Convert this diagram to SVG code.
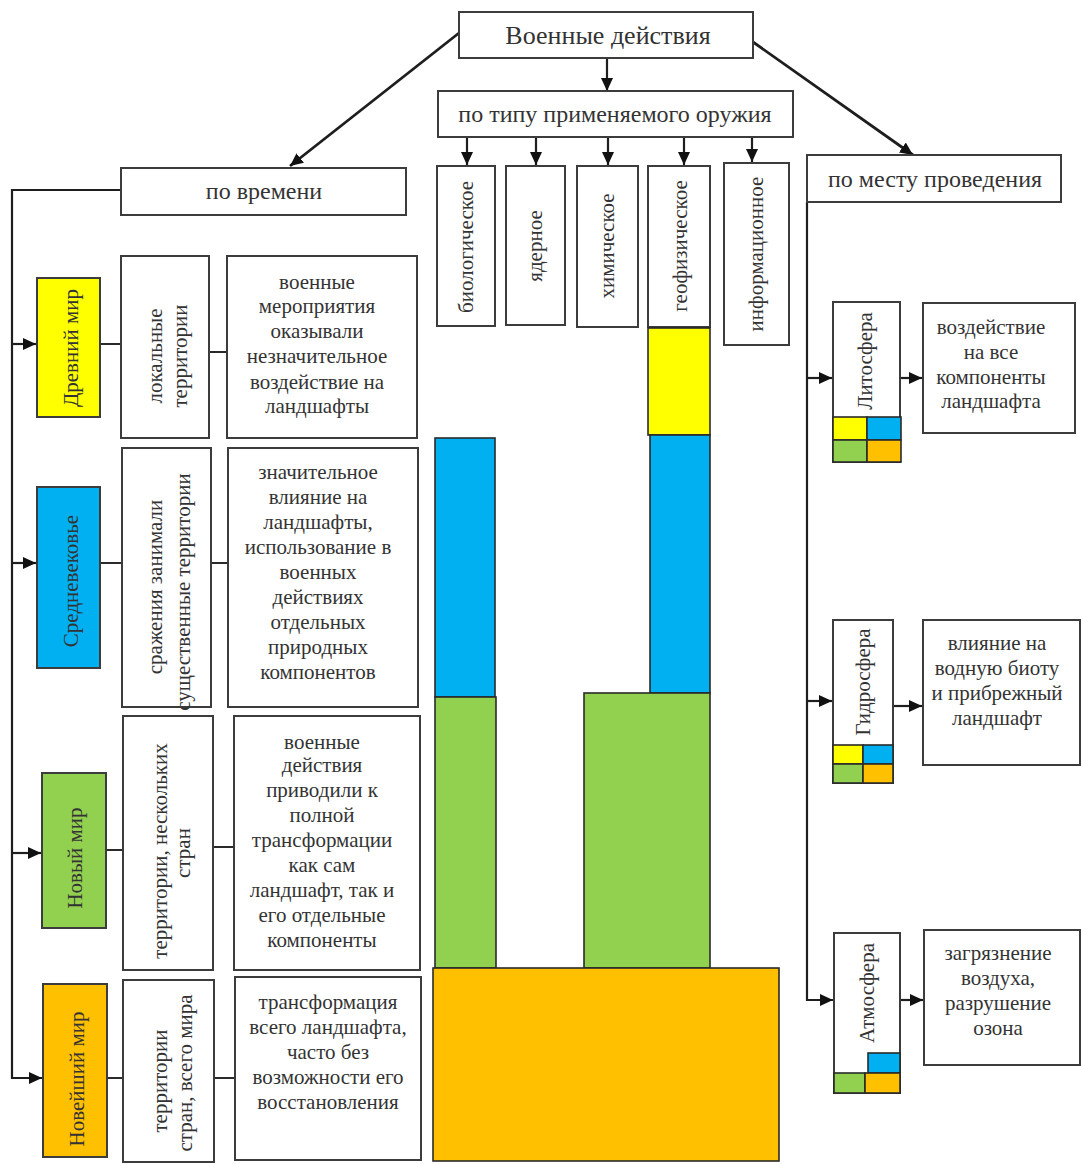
<svg xmlns="http://www.w3.org/2000/svg" width="1081" height="1164" viewBox="0 0 1081 1164">
<defs>
<marker id="ah" markerUnits="userSpaceOnUse" markerWidth="14" markerHeight="14" refX="13" refY="7" orient="auto">
<path d="M0,1 L13,7 L0,13 z" fill="#111"/>
</marker>
<style>
.box{fill:#fff;stroke:#3c3c3c;stroke-width:2}
.bar{stroke:#2a2a2a;stroke-width:1.6}
.ln{fill:none;stroke:#2a2a2a;stroke-width:2}
.ar{fill:none;stroke:#1e1e1e;stroke-width:2.2;marker-end:url(#ah)}
.ard{fill:none;stroke:#1e1e1e;stroke-width:2.8;marker-end:url(#ah)}
text{font-family:"Liberation Serif","Times New Roman",serif;fill:#333;text-anchor:middle}
.t1{font-size:26px}
.t2{font-size:24px}
.t3{font-size:21px}
.y{fill:#ffff00}.b{fill:#00b0f0}.g{fill:#92d050}.o{fill:#ffc000}
</style>
</defs>
<rect width="1081" height="1164" fill="#fff"/>

<g id="connectors">
<line class="ard" x1="459" y1="33" x2="290" y2="166"/>
<line class="ar" x1="607" y1="58" x2="607" y2="91"/>
<line class="ard" x1="753" y1="42" x2="913" y2="155"/>
<line class="ar" x1="467" y1="137" x2="467" y2="165"/>
<line class="ar" x1="536" y1="137" x2="536" y2="165"/>
<line class="ar" x1="608" y1="137" x2="608" y2="165"/>
<line class="ar" x1="684" y1="137" x2="684" y2="165"/>
<line class="ar" x1="752" y1="137" x2="752" y2="162"/>
<path class="ar" d="M121,190 H12 V1078 H42"/>
<line class="ar" x1="12" y1="344" x2="36" y2="344"/>
<line class="ar" x1="12" y1="563" x2="36" y2="563"/>
<line class="ar" x1="12" y1="853" x2="41" y2="853"/>
<line class="ln" x1="100" y1="344" x2="121" y2="344"/>
<line class="ln" x1="100" y1="563" x2="122" y2="563"/>
<line class="ln" x1="105" y1="850" x2="123" y2="850"/>
<line class="ln" x1="107" y1="1078" x2="123" y2="1078"/>
<line class="ln" x1="209" y1="352" x2="227" y2="352"/>
<line class="ln" x1="211" y1="563" x2="228" y2="563"/>
<line class="ln" x1="213" y1="847" x2="234" y2="847"/>
<line class="ln" x1="214" y1="1078" x2="235" y2="1078"/>
<path class="ar" d="M807,202 V1000 H833"/>
<line class="ar" x1="807" y1="378" x2="832" y2="378"/>
<line class="ar" x1="807" y1="701" x2="832" y2="701"/>
<line class="ar" x1="900" y1="378" x2="922" y2="378"/>
<line class="ar" x1="893" y1="706" x2="922" y2="706"/>
<line class="ar" x1="900" y1="1000" x2="923" y2="1000"/>
</g>

<g id="n-root"><rect class="box" x="459" y="12" width="294" height="46"/><text class="t1" x="608" y="44">Военные действия</text></g>
<g id="n-type"><rect class="box" x="438" y="91" width="355" height="46"/><text class="t2" x="615" y="122">по типу применяемого оружия</text></g>
<g id="n-time"><rect class="box" x="121" y="168" width="285" height="47"/><text class="t2" x="264" y="199">по времени</text></g>
<g id="n-place"><rect class="box" x="807" y="155" width="254" height="47"/><text class="t2" x="935" y="187">по месту проведения</text></g>

<g id="n-bio"><rect class="box" x="437" y="166" width="58" height="160"/><text class="t3" transform="translate(473,247) rotate(-90)">биологическое</text></g>
<g id="n-nuc"><rect class="box" x="506" y="166" width="59" height="159"/><text class="t3" transform="translate(542,246) rotate(-90)">ядерное</text></g>
<g id="n-chem"><rect class="box" x="577" y="166" width="61" height="161"/><text class="t3" transform="translate(614,246) rotate(-90)">химическое</text></g>
<g id="n-geo"><rect class="box" x="648" y="166" width="62" height="161"/><text class="t3" transform="translate(687,246) rotate(-90)">геофизическое</text></g>
<g id="n-info"><rect class="box" x="724" y="163" width="65" height="182"/><text class="t3" transform="translate(763,254) rotate(-90)">информационное</text></g>

<g id="bars">
<rect class="bar b" x="435" y="438" width="60" height="259"/>
<rect class="bar g" x="435" y="697" width="61" height="271"/>
<rect class="bar y" x="648" y="328" width="62" height="107"/>
<rect class="bar b" x="650" y="435" width="60" height="258"/>
<rect class="bar g" x="584" y="693" width="126" height="275"/>
<rect class="bar o" x="433" y="968" width="346" height="193"/>
</g>

<g id="n-ancient"><rect class="box y" x="37" y="278" width="63" height="139"/><text class="t3" transform="translate(78,348) rotate(-90)">Древний мир</text></g>
<g id="n-medieval"><rect class="box b" x="37" y="487" width="63" height="181"/><text class="t3" transform="translate(78,581) rotate(-90)">Средневековье</text></g>
<g id="n-new"><rect class="box g" x="42" y="773" width="64" height="155"/><text class="t3" transform="translate(82,858) rotate(-90)">Новый мир</text></g>
<g id="n-newest"><rect class="box o" x="43" y="984" width="64" height="173"/><text class="t3" transform="translate(84,1079) rotate(-90)">Новейший мир</text></g>

<g id="n-terr1"><rect class="box" x="121" y="256" width="88" height="182"/><text class="t3" transform="translate(162,356) rotate(-90)">локальные</text><text class="t3" transform="translate(187,356) rotate(-90)">территории</text></g>
<g id="n-terr2"><rect class="box" x="122" y="448" width="89" height="259"/><text class="t3" transform="translate(162,587) rotate(-90)">сражения занимали</text><text class="t3" transform="translate(190,592) rotate(-90)">существенные территории</text></g>
<g id="n-terr3"><rect class="box" x="123" y="716" width="90" height="254"/><text class="t3" transform="translate(167,851) rotate(-90)">территории, нескольких</text><text class="t3" transform="translate(190,853) rotate(-90)">стран</text></g>
<g id="n-terr4"><rect class="box" x="123" y="980" width="91" height="182"/><text class="t3" transform="translate(167,1081) rotate(-90)">территории</text><text class="t3" transform="translate(192,1073) rotate(-90)">стран, всего мира</text></g>

<g id="n-desc1"><rect class="box" x="227" y="256" width="190" height="182"/>
<text class="t3"><tspan x="317" y="289">военные</tspan><tspan x="317" y="313">мероприятия</tspan><tspan x="317" y="338">оказывали</tspan><tspan x="317" y="363">незначительное</tspan><tspan x="317" y="389">воздействие на</tspan><tspan x="317" y="413">ландшафты</tspan></text></g>
<g id="n-desc2"><rect class="box" x="228" y="448" width="190" height="259"/>
<text class="t3"><tspan x="318" y="479">значительное</tspan><tspan x="318" y="504">влияние на</tspan><tspan x="318" y="529">ландшафты,</tspan><tspan x="318" y="554">использование в</tspan><tspan x="318" y="579">военных</tspan><tspan x="318" y="604">действиях</tspan><tspan x="318" y="629">отдельных</tspan><tspan x="318" y="654">природных</tspan><tspan x="318" y="679">компонентов</tspan></text></g>
<g id="n-desc3"><rect class="box" x="234" y="716" width="186" height="254"/>
<text class="t3"><tspan x="322" y="749">военные</tspan><tspan x="322" y="772">действия</tspan><tspan x="322" y="797">приводили к</tspan><tspan x="322" y="822">полной</tspan><tspan x="322" y="847">трансформации</tspan><tspan x="322" y="872">как сам</tspan><tspan x="322" y="897">ландшафт, так и</tspan><tspan x="322" y="922">его отдельные</tspan><tspan x="322" y="947">компоненты</tspan></text></g>
<g id="n-desc4"><rect class="box" x="235" y="977" width="186" height="183"/>
<text class="t3"><tspan x="328" y="1009">трансформация</tspan><tspan x="328" y="1034">всего ландшафта,</tspan><tspan x="328" y="1059">часто без</tspan><tspan x="328" y="1084">возможности его</tspan><tspan x="328" y="1109">восстановления</tspan></text></g>

<g id="n-litho"><rect class="box" x="833" y="302" width="67" height="160"/><text class="t3" transform="translate(872,361) rotate(-90)">Литосфера</text>
<rect class="bar y" x="833" y="417" width="34" height="23"/><rect class="bar b" x="867" y="417" width="34" height="23"/><rect class="bar g" x="833" y="440" width="34" height="22"/><rect class="bar o" x="867" y="440" width="34" height="22"/></g>
<g id="n-hydro"><rect class="box" x="833" y="620" width="60" height="163"/><text class="t3" transform="translate(870,682) rotate(-90)">Гидросфера</text>
<rect class="bar y" x="833" y="745" width="30" height="19"/><rect class="bar b" x="863" y="745" width="30" height="19"/><rect class="bar g" x="833" y="764" width="30" height="19"/><rect class="bar o" x="863" y="764" width="30" height="19"/></g>
<g id="n-atmo"><rect class="box" x="834" y="933" width="66" height="160"/><text class="t3" transform="translate(874,993) rotate(-90)">Атмосфера</text>
<rect class="bar b" x="868" y="1053" width="32" height="20"/><rect class="bar g" x="834" y="1073" width="31" height="20"/><rect class="bar o" x="865" y="1073" width="35" height="20"/></g>

<g id="n-d-litho"><rect class="box" x="923" y="303" width="152" height="130"/>
<text class="t3"><tspan x="991" y="334">воздействие</tspan><tspan x="991" y="359">на все</tspan><tspan x="991" y="384">компоненты</tspan><tspan x="991" y="408">ландшафта</tspan></text></g>
<g id="n-d-hydro"><rect class="box" x="923" y="620" width="157" height="145"/>
<text class="t3"><tspan x="997" y="650">влияние на</tspan><tspan x="997" y="675">водную биоту</tspan><tspan x="997" y="700">и прибрежный</tspan><tspan x="997" y="725">ландшафт</tspan></text></g>
<g id="n-d-atmo"><rect class="box" x="924" y="930" width="156" height="135"/>
<text class="t3"><tspan x="998" y="960">загрязнение</tspan><tspan x="998" y="985">воздуха,</tspan><tspan x="998" y="1010">разрушение</tspan><tspan x="998" y="1035">озона</tspan></text></g>
</svg>
